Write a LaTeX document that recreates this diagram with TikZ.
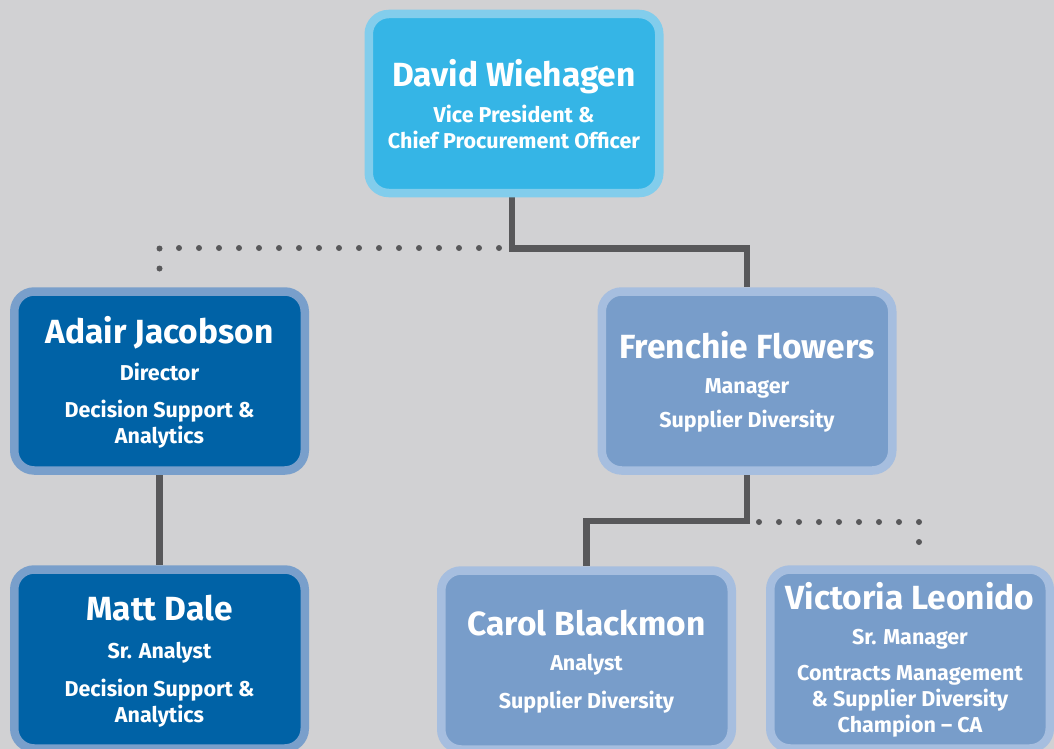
\documentclass[tikz,border=0pt]{standalone}
\usepackage{fontspec}
\setmainfont{Fira Sans}
\usetikzlibrary{backgrounds}

\definecolor{bggray}{HTML}{D1D1D3}
\definecolor{linkgray}{HTML}{58585A}
\definecolor{vpfill}{HTML}{35B5E6}
\definecolor{vpline}{HTML}{82CDEC}
\definecolor{darkfill}{HTML}{0062A6}
\definecolor{darkline}{HTML}{799FCB}
\definecolor{lightfill}{HTML}{789DCA}
\definecolor{lightline}{HTML}{A6BEDF}

\pagecolor{bggray}

% person's name, set larger than the title lines under it
% (the strut pushes the whole text block a little lower in its box)
\newcommand\who[1]{{\fontsize{33.5}{33.5}\selectfont\rule{0pt}{29pt}#1}}

\begin{document}
\begin{tikzpicture}[
	x=1pt,
	y=-1pt,
	font=\fontsize{21.5}{26}\selectfont\bfseries,
	box/.style={
		draw,
		line width=8.5pt,
		rounded corners=20pt,
		text=white,
		align=center,
		inner sep=0pt,
		minimum width=290.5pt,
		minimum height=179pt
	},
	vpbox/.style={box, draw=vpline, fill=vpfill},
	darkbox/.style={box, draw=darkline, fill=darkfill},
	lightbox/.style={box, draw=lightline, fill=lightfill},
	link/.style={draw=linkgray, line width=6.5pt},
	dots/.style={
		draw=linkgray,
		line width=6pt,
		line cap=round,
		dash pattern=on 0pt off 20pt
	}
]
\useasboundingbox (0,0) rectangle (1054,749);

\node[vpbox] (david) at (514,103.5) {\who{David Wiehagen}\\[10pt]
	Vice President \&\\ Chief Procurement Officer};

\node[darkbox] (adair) at (159.5,381) {\who{Adair Jacobson}\\[11pt]
	Director\\[11pt] Decision Support \&\\ Analytics};
\node[lightbox] (frenchie) at (747,381) {\who{Frenchie Flowers}\\[9pt]
	Manager\\[8pt] Supplier Diversity};

\node[darkbox] (matt) at (159.5,659) {\who{Matt Dale}\\[12pt]
	Sr. Analyst\\[12pt] Decision Support \&\\ Analytics};
\node[lightbox] (carol) at (586.5,660) {\who{Carol Blackmon}\\[9pt]
	Analyst\\[12pt] Supplier Diversity};
\node[lightbox, minimum width=279.5pt] (victoria) at (910,659) {\who{Victoria Leonido}\\[9pt]
	Sr. Manager\\[10pt] Contracts Management\\ \& Supplier Diversity\\ Champion – CA};

% reporting lines
\begin{scope}[on background layer]
\coordinate (topdots) at (499,248);
\coordinate (lowdots) at (759,522);
\coordinate (vicdots) at (919,546);
\draw[link] ([xshift=-2pt]david.south) -- ++(0,51) -| (frenchie.north);
\draw[link] (adair.south) -- (matt.north);
\draw[link] (frenchie.south) -- ++(0,46) -| (carol.north);
\draw[dots] (topdots) -| (adair.north);
\draw[dots] (lowdots) -| (vicdots);
\end{scope}

\end{tikzpicture}
\end{document}
